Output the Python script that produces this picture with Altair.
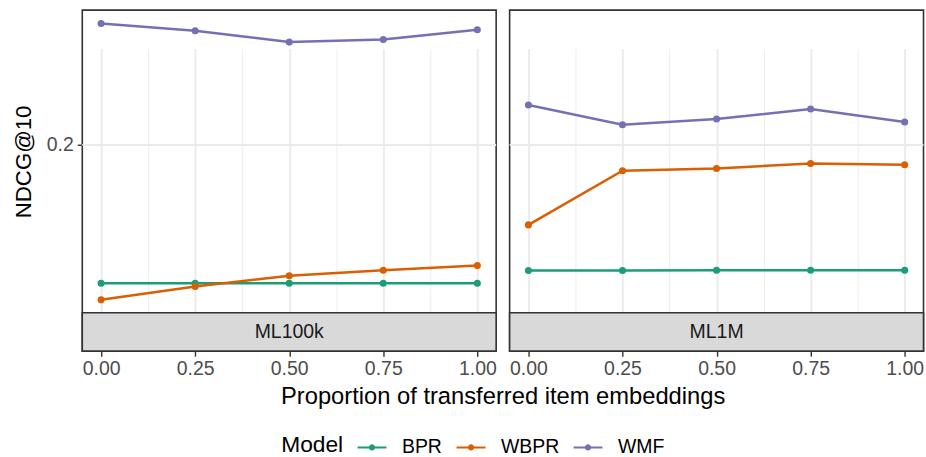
import altair as alt
import pandas as pd

# ---- data ----
props = [0.0, 0.25, 0.5, 0.75, 1.0]
models = ["BPR", "WBPR", "WMF"]
model_colors = ["#1B9E77", "#D95F02", "#7570B3"]
datasets = ["ML100k", "ML1M"]

ml100k_bpr = [0.1177, 0.1177, 0.1177, 0.1177, 0.1177]
ml100k_wbpr = [0.1104, 0.1162, 0.1211, 0.1237, 0.1259]
ml100k_wmf = [0.3188, 0.3100, 0.2968, 0.2998, 0.3112]
ml1m_bpr = [0.1236, 0.1236, 0.1237, 0.1237, 0.1237]
ml1m_wbpr = [0.1472, 0.1812, 0.1828, 0.1863, 0.1854]
ml1m_wmf = [0.2331, 0.2161, 0.2209, 0.2296, 0.2184]

y_ticks = [0.2]
x_ticks = [0.0, 0.125, 0.25, 0.375, 0.5, 0.625, 0.75, 0.875, 1.0]
x_title = "Proportion of transferred item embeddings"
y_title = "NDCG@10"

series = {
    ("ML100k", "BPR"): ml100k_bpr,
    ("ML100k", "WBPR"): ml100k_wbpr,
    ("ML100k", "WMF"): ml100k_wmf,
    ("ML1M", "BPR"): ml1m_bpr,
    ("ML1M", "WBPR"): ml1m_wbpr,
    ("ML1M", "WMF"): ml1m_wmf,
}
rows = []
for (ds, m), vals in series.items():
    for p, v in zip(props, vals):
        rows.append({"dataset": ds, "model": m, "prop": p, "ndcg": v})
df = pd.DataFrame(rows)

FONT = "Liberation Sans"
W = 415
PH = 303.4      # panel height
H = 342         # panel + strip
LEFT = 81.5
TOP = 9.3

minor_test = "(datum.value * 8) % 2 == 1"

x_enc = alt.X(
    "prop:Q",
    scale=alt.Scale(domain=[-0.05, 1.05], nice=False, zero=False),
    axis=alt.Axis(
        values=x_ticks,
        labelExpr=f"{minor_test} ? '' : format(datum.value, '.2f')",
        title=None,
        domain=False,
        grid=True,
        gridColor="#EBEBEB",
        gridWidth={"condition": {"test": minor_test, "value": 0.9}, "value": 1.9},
        tickColor="#333333",
        tickOpacity={"condition": {"test": minor_test, "value": 0}, "value": 1},
        tickSize=5,
        tickWidth=1.4,
        labelFont=FONT,
        labelFontSize=19.5,
        labelColor="#4D4D4D",
        labelPadding=3,
        labelOverlap=False,
        labelFlush=False,
        labelBound=False,
    ),
)

y_scale = alt.Scale(type="log", domain=[0.1051, 0.3356], range=[PH, 0], nice=False)

y_axis_left = alt.Axis(
    values=y_ticks,
    format=".1f",
    title=y_title,
    titleFont=FONT,
    titleFontSize=22.3,
    titleFontWeight="normal",
    titleColor="#000000",
    titleX=-58.5,
    titleY=PH / 2,
    titleBaseline="middle",
    titleAngle=270,
    domain=False,
    grid=False,
    tickColor="#333333",
    tickSize=5,
    tickWidth=1.4,
    labelFont=FONT,
    labelFontSize=19.5,
    labelColor="#4D4D4D",
    labelPadding=4,
)

color_scale = alt.Scale(domain=models, range=model_colors)
legend_path = (
    "M-1,-0.07H1V0.07H-1Z "
    "M0.21,0A0.21,0.21,0,1,1,-0.21,0A0.21,0.21,0,1,1,0.21,0Z"
)
legend = alt.Legend(
    title="Model",
    orient="none",
    legendX=199.5,
    legendY=424,
    direction="horizontal",
    columns=3,
    titleOrient="left",
    titleFont=FONT,
    titleFontSize=22.8,
    titleFontWeight="normal",
    titleColor="#000000",
    titlePadding=13.5,
    labelFont=FONT,
    labelFontSize=19.5,
    labelColor="#000000",
    labelOffset=15.5,
    columnPadding=14.3,
    symbolType=legend_path,
    symbolSize=841,
    symbolStrokeWidth=0,
    symbolOpacity=1,
)


def panel(ds, left):
    d = df[df["dataset"] == ds]
    base = alt.Chart(d)
    y_axis = y_axis_left if left else None
    y = alt.Y("ndcg:Q", scale=y_scale, axis=y_axis)
    g_df = pd.DataFrame({"g": y_ticks})
    grid = alt.Chart(g_df).mark_rule(color="#EBEBEB", strokeWidth=1.9).encode(
        y=alt.Y("g:Q", scale=y_scale, axis=y_axis),
        x=alt.value(0),
        x2=alt.value(W),
    )
    lines = base.mark_line(strokeWidth=2.5).encode(
        x=x_enc,
        y=y,
        stroke=alt.Stroke("model:N", scale=alt.Scale(range=model_colors), legend=None),
        detail="model:N",
    )
    points = base.mark_point(filled=True, size=50, opacity=1).encode(
        x=x_enc,
        y=y,
        color=alt.Color("model:N", scale=color_scale, legend=legend),
    )
    strip_df = pd.DataFrame({"label": [ds]})
    strip = alt.Chart(strip_df).mark_rect(
        fill="#D9D9D9", stroke="#333333", strokeWidth=1.6
    ).encode(
        x=alt.value(0), x2=alt.value(W), y=alt.value(PH), y2=alt.value(H)
    )
    strip_text = alt.Chart(strip_df).mark_text(
        font=FONT, fontSize=19.5, color="#1A1A1A", baseline="middle", align="center"
    ).encode(x=alt.value(W / 2), y=alt.value((PH + H) / 2), text="label:N")
    layers = [grid, strip, strip_text, lines, points]
    if left:
        t_df = pd.DataFrame({"t": [x_title]})
        xt = alt.Chart(t_df).mark_text(
            font=FONT, fontSize=23.8, color="#000000", baseline="middle", align="center"
        ).encode(x=alt.value(503.5 - LEFT), y=alt.value(397.5 - TOP), text="t:N")
        layers += [xt]
    return alt.layer(*layers).properties(width=W, height=H)


chart = (
    alt.hconcat(panel("ML100k", True), panel("ML1M", False), spacing=13.5, bounds="flush")
    .resolve_scale(x="independent", y="independent", color="shared", stroke="shared")
    .properties(padding={"left": 11.5, "top": 8.5, "right": 0, "bottom": 0}, background="white")
    .configure_view(stroke="#333333", strokeWidth=1.6)
)

chart.save("out.html", embed_options={"renderer": "svg", "actions": False})
